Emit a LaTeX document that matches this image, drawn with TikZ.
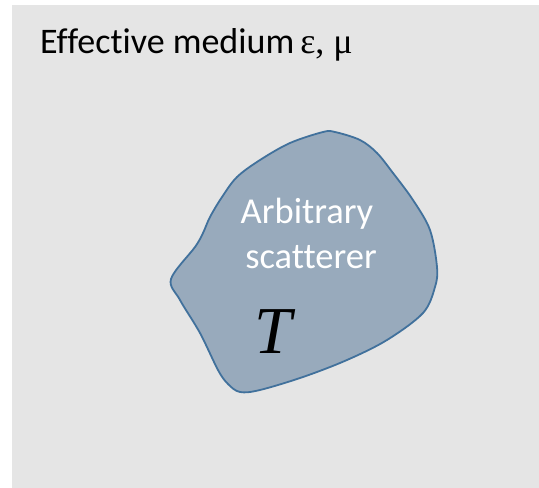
\documentclass[tikz,border=0pt]{standalone}
\usepackage{fontspec}
\setmainfont[Ligatures=NoCommon]{Carlito}
\newfontfamily\serifgr{Liberation Serif}
\definecolor{bgcol}{RGB}{229,229,229}
\definecolor{blobfill}{RGB}{152,170,188}
\definecolor{blobline}{RGB}{65,113,156}
\tikzset{
  labeltext/.style={inner sep=0pt, font=\fontsize{36}{40}\selectfont, text=black},
  whitetext/.style={inner sep=0pt, font=\fontsize{36.5}{40}\selectfont, text=white},
  bigT/.style={inner sep=0pt, font=\serifgr\itshape\fontsize{67}{70}\selectfont, text=black},
}
\begin{document}
\begin{tikzpicture}[x=1pt,y=-1pt]
\useasboundingbox (0,0) rectangle (539,488);
\fill[bgcol] (12,5) rectangle (539,488);
\node[labeltext, anchor=base west] (title) at (40,53) {Effective medium\,{\serifgr ε, μ}};
\draw[blobline, fill=blobfill, line width=1.8pt] plot[smooth cycle, tension=0.55] coordinates {
 (171,279) (195,247) (203,233) (210,217) (222,197) (237,177) (260,160) (290,143)
 (323,132) (335,132) (360,140) (377,153) (393,173) (413,200) (430,230) (437,267)
 (435,287) (423,313) (387,340) (347,360) (303,377) (260,390) (240,392) (228,384)
 (218,370) (200,333) (180,300)};
\node[whitetext, anchor=base] (arb) at (307,223) {Arbitrary};
\node[whitetext, anchor=base] (scat) at (311,268) {scatterer};
\node[bigT, anchor=base] (T) at (273,353) {T};
\end{tikzpicture}
\end{document}
